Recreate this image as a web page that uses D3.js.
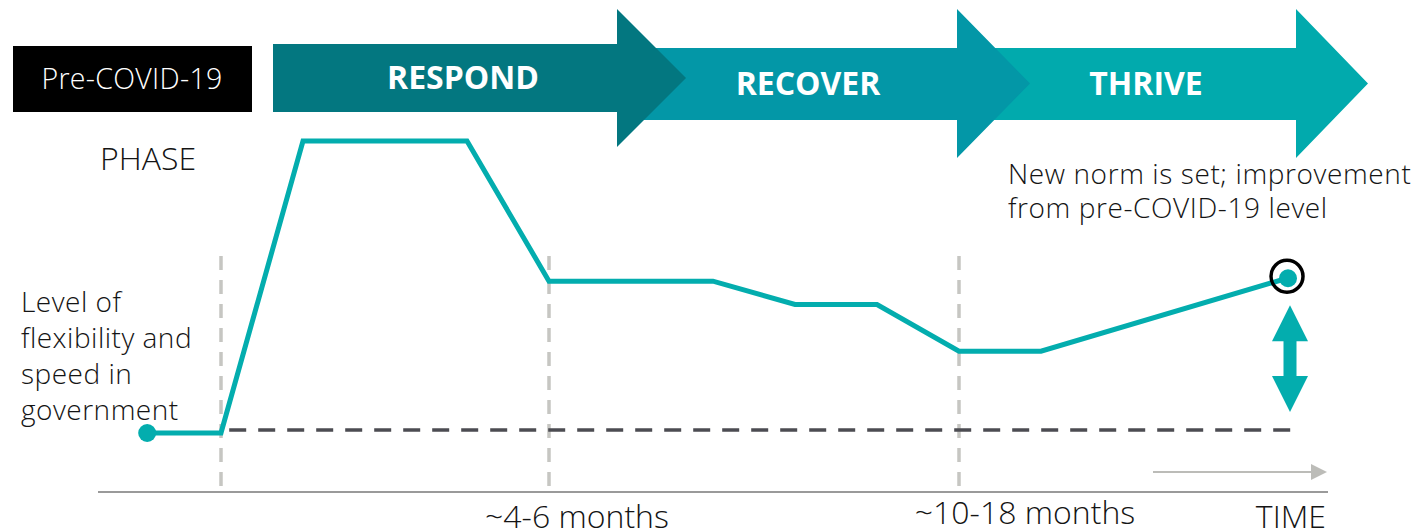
<!DOCTYPE html>
<html>
<head>
<meta charset="utf-8">
<script src="https://cdn.jsdelivr.net/npm/d3@7"></script>
<style>
  body { margin: 0; background: #fff; }
  text { font-family: "Open Sans", "Noto Sans", sans-serif; }
</style>
</head>
<body>
<script>
// timeline in "steps"; 0 = outbreak, 4 = ~4-6 months, 9 = ~10-18 months
var levelSteps = [-0.9, 0, 1, 3, 4, 6, 7, 8, 9, 10, 13]
var levelValues = [0, 0, 100, 100, 52, 52, 44, 44, 28, 28, 53]
var baselineValue = 1
var markerSteps = [0, 4, 9]
var markerLabels = ['', '~4-6 months', '~10-18 months']
var phaseNames = ['RESPOND', 'RECOVER', 'THRIVE']
var phaseColors = ['#037780', '#0397a7', '#01aaad']
var sideLabel = ['Level of', 'flexibility and', 'speed in', 'government']
var noteLabel = ['New norm is set; improvement', 'from pre-COVID-19 level']

function main(){
    var width = 1417;
    var height = 530;
    var teal = '#03adae';
    var ink = '#141414';

    let svg = d3.select('body')
        .append('svg')
        .attr('width', width)
        .attr('height', height)

    let xScale = d3.scaleLinear()
        .domain([-1.5, 13.5])
        .range([98, 1328]);
    let yScale = d3.scaleLinear()
        .domain([0, 100])
        .range([433, 141]);

    // phase arrows (drawn back to front)
    const arrows = [
        {x0: 273, x1: 617, tip: 686, top: 44, bot: 112, htop: 9, hbot: 147, cx: 463, ty: 89},
        {x0: 630, x1: 957, tip: 1030, top: 48, bot: 120, htop: 9, hbot: 158, cx: 808, ty: 95},
        {x0: 990, x1: 1296, tip: 1368, top: 48, bot: 120, htop: 9, hbot: 158, cx: 1146, ty: 95}
    ]
    for (let i = phaseNames.length - 1; i >= 0; i--) {
        let a = arrows[i]
        let mid = (a.htop + a.hbot) / 2
        svg.append('path')
            .attr('d', `M${a.x0},${a.top}H${a.x1}V${a.htop}L${a.tip},${mid}L${a.x1},${a.hbot}V${a.bot}H${a.x0}Z`)
            .attr('fill', phaseColors[i])
    }
    phaseNames.forEach(function (d, i){
        let a = arrows[i]
        svg.append('text')
            .attr('x', a.cx)
            .attr('y', a.ty)
            .attr('text-anchor', 'middle')
            .attr('fill', '#fff')
            .attr('font-weight', 700)
            .attr('font-size', '32px')
            .text(d)
    })

    // pre-covid box
    svg.append('rect')
        .attr('x', 13).attr('y', 46)
        .attr('width', 239).attr('height', 66)
        .attr('fill', '#000')
    svg.append('text')
        .attr('x', 132).attr('y', 89)
        .attr('text-anchor', 'middle')
        .attr('fill', '#fff')
        .attr('font-weight', 300)
        .attr('font-size', '28.5px')
        .attr('letter-spacing', '0.3px')
        .text('Pre-COVID-19')

    svg.append('text')
        .attr('x', 100).attr('y', 170)
        .attr('font-weight', 300)
        .attr('font-size', '32px')
        .attr('fill', ink)
        .text('PHASE')

    // axis
    svg.append('line')
        .attr('x1', xScale(-1.5)).attr('x2', xScale(13.5))
        .attr('y1', 492).attr('y2', 492)
        .attr('stroke', '#9a9a9a').attr('stroke-width', 2)

    // marker lines
    svg.selectAll('.marker')
        .data(markerSteps)
        .enter()
        .append('line')
        .attr('x1', d => xScale(d)).attr('x2', d => xScale(d))
        .attr('y1', 256).attr('y2', 491)
        .attr('stroke', '#c6c6c2')
        .attr('stroke-width', 3.5)
        .attr('stroke-dasharray', '14,10')

    svg.selectAll('.mlabel')
        .data(markerSteps)
        .enter()
        .append('text')
        .attr('x', (d, i) => xScale(d) + (i == 1 ? 28 : 66))
        .attr('y', (d, i) => i == 1 ? 528 : 524)
        .attr('text-anchor', 'middle')
        .attr('font-weight', 300)
        .attr('font-size', '32px')
        .attr('fill', ink)
        .text((d, i) => markerLabels[i])

    // baseline dashed
    svg.append('line')
        .attr('x1', xScale(0.1)).attr('x2', xScale(13.1))
        .attr('y1', yScale(baselineValue)).attr('y2', yScale(baselineValue))
        .attr('stroke', '#4c4c52')
        .attr('stroke-width', 3.5)
        .attr('stroke-dasharray', '17,12')

    // level line
    let pts = levelSteps.map((d, i) => [d, levelValues[i]])
    let line = d3.line()
        .x(d => xScale(d[0]))
        .y(d => yScale(d[1]))
    svg.append('path')
        .attr('d', line(pts))
        .attr('fill', 'none')
        .attr('stroke', teal)
        .attr('stroke-width', 5)
        .attr('stroke-linejoin', 'miter')

    let first = pts[0], last = pts[pts.length - 1]
    svg.append('circle')
        .attr('cx', xScale(first[0])).attr('cy', yScale(first[1]))
        .attr('r', 9).attr('fill', teal)
    svg.append('circle')
        .attr('cx', xScale(last[0]) + 1).attr('cy', yScale(last[1]))
        .attr('r', 9).attr('fill', teal)
    svg.append('circle')
        .attr('cx', xScale(last[0])).attr('cy', yScale(last[1]) - 2)
        .attr('r', 16).attr('fill', 'none')
        .attr('stroke', '#000').attr('stroke-width', 3.5)

    // double arrow between new norm and baseline
    let ax = xScale(last[0]) + 3
    let ay0 = yScale(last[1]) + 27, ay1 = yScale(baselineValue) - 18
    svg.append('rect')
        .attr('x', ax - 6.5).attr('y', ay0 + 30)
        .attr('width', 13).attr('height', ay1 - ay0 - 60)
        .attr('fill', teal)
    svg.append('path')
        .attr('d', `M${ax},${ay0}L${ax + 18},${ay0 + 36}H${ax - 18}Z`)
        .attr('fill', teal)
    svg.append('path')
        .attr('d', `M${ax},${ay1}L${ax + 18},${ay1 - 36}H${ax - 18}Z`)
        .attr('fill', teal)

    // time arrow
    svg.append('line')
        .attr('x1', 1153).attr('x2', 1314)
        .attr('y1', 472).attr('y2', 472)
        .attr('stroke', '#bcbcb8').attr('stroke-width', 2)
    svg.append('path')
        .attr('d', 'M1327,472L1311,464V480Z')
        .attr('fill', '#bcbcb8')
    svg.append('text')
        .attr('x', 1326).attr('y', 528)
        .attr('text-anchor', 'end')
        .attr('font-weight', 300)
        .attr('font-size', '32px')
        .attr('fill', ink)
        .text('TIME')

    // side label
    svg.append('text')
        .attr('font-weight', 300)
        .attr('font-size', '28px')
        .attr('letter-spacing', '0.5px')
        .attr('fill', ink)
        .selectAll('tspan')
        .data(sideLabel)
        .enter()
        .append('tspan')
        .attr('x', 21)
        .attr('y', (d, i) => 312 + i * 36)
        .text(d => d)

    svg.append('text')
        .attr('font-weight', 300)
        .attr('font-size', '28px')
        .attr('letter-spacing', '0.6px')
        .attr('fill', ink)
        .selectAll('tspan')
        .data(noteLabel)
        .enter()
        .append('tspan')
        .attr('x', 1008)
        .attr('y', (d, i) => 184 + i * 34)
        .text(d => d)
}

main()
</script>
</body>
</html>
